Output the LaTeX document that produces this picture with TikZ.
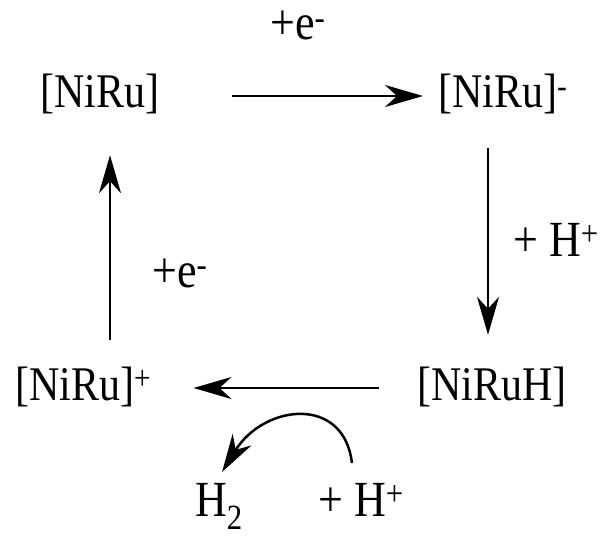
\documentclass[tikz,border=0pt]{standalone}
\usepackage{fontspec}
\setmainfont{Liberation Serif}
\usepackage{graphicx}
\usepackage{tikz}
\usetikzlibrary{arrows.meta, positioning, calc}
\definecolor{mydark}{RGB}{0,0,0}
\newcommand{\chemtxt}[1]{\scalebox{1}[1.15]{#1}}
\tikzset{
  species/.style={inner sep=0pt, text height=34pt, text depth=10pt,
    font=\fontsize{42}{50}\selectfont, color=mydark},
  reagent/.style={inner sep=0pt, font=\fontsize{44}{52}\selectfont, color=mydark},
  arrow/.style={-{Stealth[length=38pt, width=22pt, inset=12pt]}, line width=2.5pt, color=mydark}
}

\begin{document}
\begin{tikzpicture}[x=1pt, y=-1pt]
  \useasboundingbox (0,0) rectangle (613,540);

  % Species of the cycle
  \node[species, anchor=base] (nr0) at (100,108) {\chemtxt{[NiRu]}};
  \node[species, anchor=base west] (nr1) at (438,108) {\chemtxt{[NiRu]\textsuperscript{-}}};
  \node[species, anchor=base] (nr2) at (492,400) {\chemtxt{[NiRuH]}};
  \node[species, anchor=base west] (nr3) at (15,400) {\chemtxt{[NiRu]\textsuperscript{+}}};

  % Arrow columns
  \coordinate (lx) at (110,0);
  \coordinate (rx) at (488,0);

  % Steps
  \draw[arrow] ([xshift=72pt]nr0.east) -- ([xshift=-15pt]nr1.west);
  \draw[arrow] ([yshift=-30pt]nr1.south -| rx) -- ([yshift=31pt]nr2.north -| rx);
  \draw[arrow] ([xshift=-38pt]nr2.west) -- ([xshift=42pt]nr3.east);
  \draw[arrow] ([yshift=26pt]nr3.north -| lx) -- ([yshift=-37pt]nr0.south -| lx);

  % Reagents
  \node[reagent, anchor=base west] (e0) at (270,40) {\chemtxt{+e\textsuperscript{-}}};
  \node[reagent, anchor=base west] (hp0) at (513,256) {\chemtxt{+ H\textsuperscript{+}}};
  \node[reagent, anchor=base west] (e1) at (152,287) {\chemtxt{+e\textsuperscript{-}}};

  % Hydrogen release
  \node[reagent, anchor=base west] (h2) at (195,516) {\chemtxt{H\textsubscript{2}}};
  \node[reagent, anchor=base west] (hp1) at (318,516) {\chemtxt{+ H\textsuperscript{+}}};
  \draw[arrow] ([shift={(-9pt,53pt)}]hp1.base) .. controls +(-8,-68) and +(42,-68) .. ([shift={(3pt,44pt)}]h2.base);

\end{tikzpicture}
\end{document}
